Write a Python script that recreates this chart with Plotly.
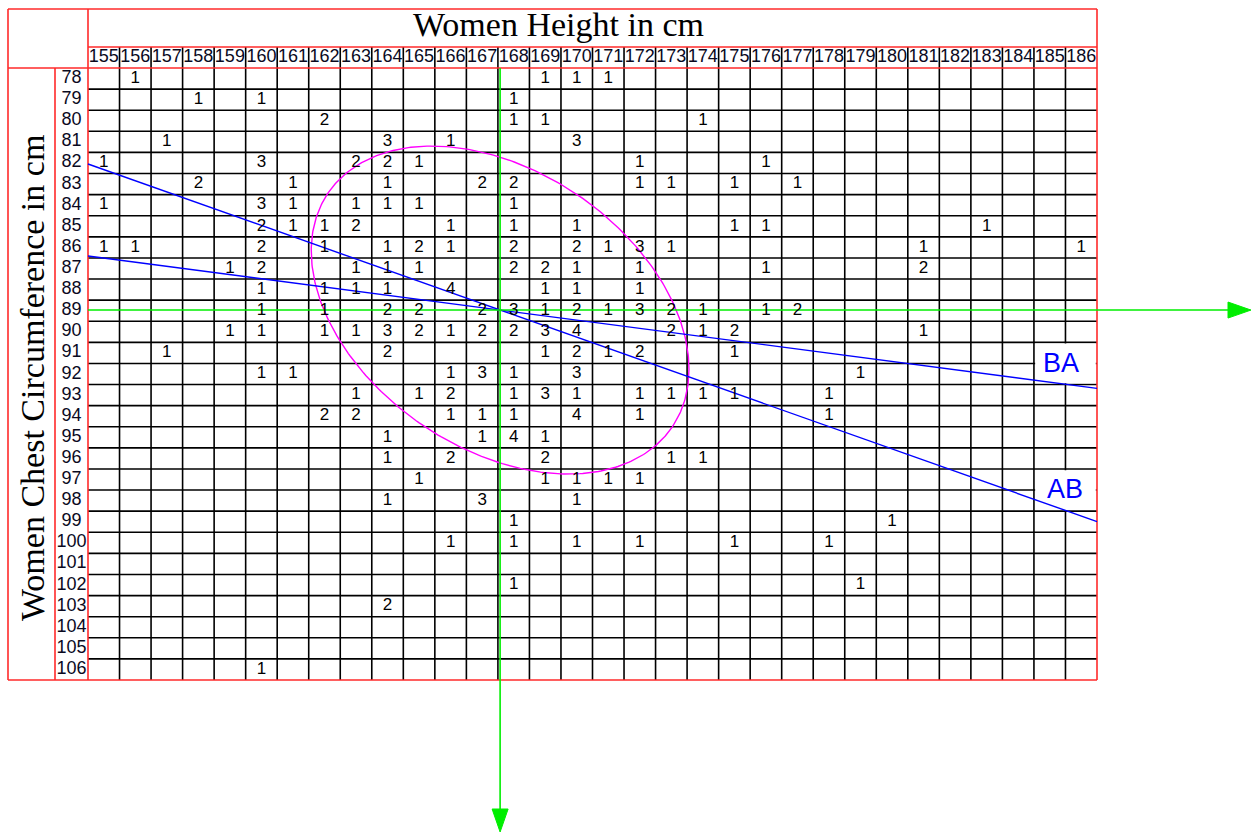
import numpy as np
import plotly.graph_objects as go

# ---- data -------------------------------------------------------------
heights = list(range(155, 187))          # women height, cm (columns)
chests = list(range(78, 107))            # chest circumference, cm (rows)

# frequency of each (chest, height) pair; empty cells are omitted
counts_by_chest = {
    78: {156: 1, 169: 1, 170: 1, 171: 1},
    79: {158: 1, 160: 1, 168: 1},
    80: {162: 2, 168: 1, 169: 1, 174: 1},
    81: {157: 1, 164: 3, 166: 1, 170: 3},
    82: {155: 1, 160: 3, 163: 2, 164: 2, 165: 1, 172: 1, 176: 1},
    83: {158: 2, 161: 1, 164: 1, 167: 2, 168: 2, 172: 1, 173: 1, 175: 1, 177: 1},
    84: {155: 1, 160: 3, 161: 1, 163: 1, 164: 1, 165: 1, 168: 1},
    85: {160: 2, 161: 1, 162: 1, 163: 2, 166: 1, 168: 1, 170: 1, 175: 1, 176: 1, 183: 1},
    86: {155: 1, 156: 1, 160: 2, 162: 1, 164: 1, 165: 2, 166: 1, 168: 2, 170: 2,
         171: 1, 172: 3, 173: 1, 181: 1, 186: 1},
    87: {159: 1, 160: 2, 163: 1, 164: 1, 165: 1, 168: 2, 169: 2, 170: 1, 172: 1,
         176: 1, 181: 2},
    88: {160: 1, 162: 1, 163: 1, 164: 1, 166: 4, 169: 1, 170: 1, 172: 1},
    89: {160: 1, 162: 1, 164: 2, 165: 2, 167: 2, 168: 3, 169: 1, 170: 2, 171: 1,
         172: 3, 173: 2, 174: 1, 176: 1, 177: 2},
    90: {159: 1, 160: 1, 162: 1, 163: 1, 164: 3, 165: 2, 166: 1, 167: 2, 168: 2,
         169: 3, 170: 4, 173: 2, 174: 1, 175: 2, 181: 1},
    91: {157: 1, 164: 2, 169: 1, 170: 2, 171: 1, 172: 2, 175: 1},
    92: {160: 1, 161: 1, 166: 1, 167: 3, 168: 1, 170: 3, 179: 1},
    93: {163: 1, 165: 1, 166: 2, 168: 1, 169: 3, 170: 1, 172: 1, 173: 1, 174: 1,
         175: 1, 178: 1},
    94: {162: 2, 163: 2, 166: 1, 167: 1, 168: 1, 170: 4, 172: 1, 178: 1},
    95: {164: 1, 167: 1, 168: 4, 169: 1},
    96: {164: 1, 166: 2, 169: 2, 173: 1, 174: 1},
    97: {165: 1, 169: 1, 170: 1, 171: 1, 172: 1},
    98: {164: 1, 167: 3, 170: 1},
    99: {168: 1, 180: 1},
    100: {166: 1, 168: 1, 170: 1, 172: 1, 175: 1, 178: 1},
    101: {},
    102: {168: 1, 179: 1},
    103: {164: 2},
    104: {},
    105: {},
    106: {160: 1},
}

# summary statistics drawn over the table
mean_height = 167.57
mean_chest = 88.97
slope_ab = 0.5295        # chest change per cm of height, line AB
slope_ba = 0.1959        # chest change per cm of height, line BA
spread_height = 5.99     # ellipse half-extent along height
spread_chest = 7.77      # ellipse half-extent along chest
corr = 0.361

x_title = "Women Height in cm"
y_title = "Women Chest Circumference in cm"

# ---- page geometry (pixels) -------------------------------------------
FIG_W, FIG_H = 1251, 834
GRID_L, GRID_R, GRID_T, GRID_B = 88, 1097, 68, 680
FRAME_L, FRAME_T = 8, 9
TITLE_B = 47
LABEL_L = 55

col_w = (GRID_R - GRID_L) / len(heights)
row_h = (GRID_B - GRID_T) / len(chests)
x0 = heights[0] - 0.5
y0 = chests[0] - 0.5


def hx(px):
    return x0 + (px - GRID_L) / col_w


def cy(py):
    return y0 + (py - GRID_T) / row_h


def segments(items):
    xs, ys = [], []
    for xa, ya, xb, yb in items:
        xs += [xa, xb, None]
        ys += [ya, yb, None]
    return xs, ys


fig = go.Figure()

# black cell grid (vertical lines run through the header row)
x_end = x0 + len(heights)
y_end = y0 + len(chests)
grid = [(x0 + i, cy(TITLE_B), x0 + i, y_end) for i in range(1, len(heights))]
grid += [(x0, y0 + j, x_end, y0 + j) for j in range(1, len(chests))]
gx, gy = segments(grid)
fig.add_trace(go.Scatter(x=gx, y=gy, mode="lines",
                         line=dict(color="black", width=1.6)))

# red frame and header separators
frame = [
    (hx(FRAME_L), cy(FRAME_T), hx(GRID_R), cy(FRAME_T)),
    (hx(FRAME_L), cy(GRID_B), hx(GRID_R), cy(GRID_B)),
    (hx(FRAME_L), cy(FRAME_T), hx(FRAME_L), cy(GRID_B)),
    (hx(GRID_R), cy(FRAME_T), hx(GRID_R), cy(GRID_B)),
    (hx(GRID_L), cy(FRAME_T), hx(GRID_L), cy(GRID_B)),
    (hx(LABEL_L), cy(GRID_T), hx(LABEL_L), cy(GRID_B)),
    (hx(GRID_L), cy(TITLE_B), hx(GRID_R), cy(TITLE_B)),
    (hx(FRAME_L), cy(GRID_T), hx(GRID_R), cy(GRID_T)),
]
fx, fy = segments(frame)
fig.add_trace(go.Scatter(x=fx, y=fy, mode="lines",
                         line=dict(color="#ff2a2a", width=1.6)))

# white label boxes that blank out the grid behind "BA" and "AB"
pad_x, pad_y = 1.2 / col_w, 1.2 / row_h
for top_row in (91, 97):
    bx0, bx1 = heights[-2] - 0.5 + pad_x, heights[-1] + 0.5 - pad_x
    by0, by1 = top_row - 0.5 + pad_y, top_row + 1.5 - pad_y
    fig.add_trace(go.Scatter(x=[bx0, bx1, bx1, bx0, bx0], y=[by0, by0, by1, by1, by0],
                             mode="lines", fill="toself", fillcolor="white",
                             line=dict(width=0, color="white")))

# concentration ellipse around the means
t = np.linspace(0, 2 * np.pi, 400)
ex = mean_height + spread_height * np.cos(t)
ey = mean_chest + spread_chest * (corr * np.cos(t) + np.sqrt(1 - corr ** 2) * np.sin(t))
fig.add_trace(go.Scatter(x=ex, y=ey, mode="lines",
                         line=dict(color="#ff00ff", width=1.4)))

# the two regression lines through the means
lx = np.array([x0, x_end])
for slope in (slope_ab, slope_ba):
    fig.add_trace(go.Scatter(x=lx, y=mean_chest + slope * (lx - mean_height), mode="lines",
                             line=dict(color="#0000ff", width=1.4)))

# green mean axes with arrowheads
green = "#00ee00"
tip_x, tip_y = hx(FIG_W), cy(FIG_H - 2)
fig.add_trace(go.Scatter(x=[x0, tip_x - 10 / col_w], y=[mean_chest, mean_chest], mode="lines",
                         line=dict(color=green, width=1.6)))
fig.add_trace(go.Scatter(x=[mean_height, mean_height], y=[y0, tip_y - 10 / row_h], mode="lines",
                         line=dict(color=green, width=1.6)))
ah_len, ah_half = 23, 8
fig.add_trace(go.Scatter(
    x=[tip_x - ah_len / col_w, tip_x, tip_x - ah_len / col_w, tip_x - ah_len / col_w],
    y=[mean_chest - ah_half / row_h, mean_chest, mean_chest + ah_half / row_h,
       mean_chest - ah_half / row_h],
    mode="lines", fill="toself", fillcolor=green, line=dict(color=green, width=1)))
fig.add_trace(go.Scatter(
    x=[mean_height - ah_half / col_w, mean_height, mean_height + ah_half / col_w,
       mean_height - ah_half / col_w],
    y=[tip_y - ah_len / row_h, tip_y, tip_y - ah_len / row_h, tip_y - ah_len / row_h],
    mode="lines", fill="toself", fillcolor=green, line=dict(color=green, width=1)))

# cell frequencies
cx, cyv, ct = [], [], []
for chest in chests:
    for h, n in counts_by_chest[chest].items():
        cx.append(h)
        cyv.append(chest)
        ct.append(str(n))
sans = "Arial, Liberation Sans, sans-serif"
fig.add_trace(go.Scatter(x=cx, y=cyv, text=ct, mode="text", textposition="middle center",
                         textfont=dict(family=sans, size=17, color="black")))

# column header (heights) and row labels (chests)
fig.add_trace(go.Scatter(x=heights, y=[y0 - 0.5] * len(heights), text=[str(h) for h in heights],
                         mode="text", textposition="middle center",
                         textfont=dict(family=sans, size=18, color="#0a0a1e")))
fig.add_trace(go.Scatter(x=[hx((LABEL_L + GRID_L) / 2)] * len(chests), y=chests,
                         text=[str(c) for c in chests], mode="text", textposition="middle center",
                         textfont=dict(family=sans, size=18, color="#0a0a1e")))

serif = "Liberation Serif, Times New Roman, serif"
annotations = [
    dict(x=558 / FIG_W, y=1 - 24.5 / FIG_H, xref="paper", yref="paper", text=x_title,
         showarrow=False, xanchor="center", yanchor="middle",
         font=dict(family=serif, size=34, color="black")),
    dict(x=32 / FIG_W, y=1 - 378 / FIG_H, xref="paper", yref="paper", text=y_title,
         showarrow=False, xanchor="center", yanchor="middle", textangle=-90,
         font=dict(family=serif, size=34, color="black")),
    dict(x=hx(1060.5), y=cy(362.5), xref="x", yref="y", text="BA", showarrow=False,
         xanchor="center", yanchor="middle", font=dict(family=sans, size=27, color="#0000ff")),
    dict(x=hx(1065), y=cy(488.5), xref="x", yref="y", text="AB", showarrow=False,
         xanchor="center", yanchor="middle", font=dict(family=sans, size=27, color="#0000ff")),
]

fig.update_layout(
    width=FIG_W, height=FIG_H,
    margin=dict(l=0, r=0, t=0, b=0),
    paper_bgcolor="white", plot_bgcolor="white",
    showlegend=False, hovermode=False,
    annotations=annotations,
    xaxis=dict(range=[hx(0), hx(FIG_W)], visible=False, fixedrange=True),
    yaxis=dict(range=[cy(FIG_H), cy(0)], visible=False, fixedrange=True),
)

fig.write_html("out.html")
